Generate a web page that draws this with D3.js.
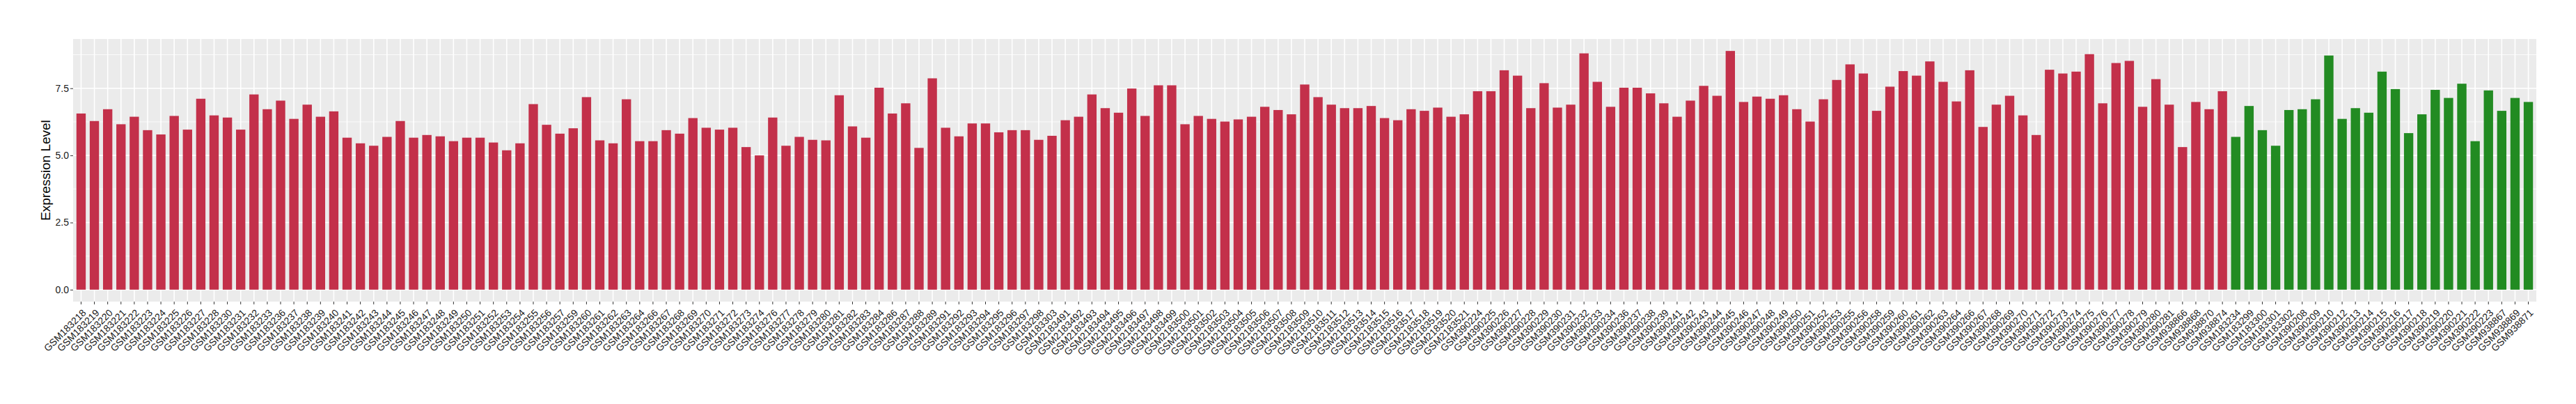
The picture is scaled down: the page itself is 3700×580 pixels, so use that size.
<!DOCTYPE html>
<html>
<head>
<meta charset="utf-8">
<script src="https://cdn.jsdelivr.net/npm/d3@7"></script>
<style>
  body { margin: 0; background: #fff; }
  text { font-family: "Liberation Sans", Arial, sans-serif; }
</style>
</head>
<body>
<div id="chart"></div>
<script>
// tumor samples (red) then normal samples (green)
var tumorSamples = [
  "GSM183218","GSM183219","GSM183220","GSM183221","GSM183222","GSM183223","GSM183224","GSM183225","GSM183226","GSM183227","GSM183228",
  "GSM183230","GSM183231","GSM183232","GSM183233","GSM183236","GSM183237","GSM183238","GSM183239","GSM183240","GSM183241","GSM183242",
  "GSM183243","GSM183244","GSM183245","GSM183246","GSM183247","GSM183248","GSM183249","GSM183250","GSM183251","GSM183252","GSM183253",
  "GSM183254","GSM183255","GSM183256","GSM183257","GSM183259","GSM183260","GSM183261","GSM183262","GSM183263","GSM183264","GSM183266",
  "GSM183267","GSM183268","GSM183269","GSM183270","GSM183271","GSM183272","GSM183273","GSM183274","GSM183276","GSM183277","GSM183278",
  "GSM183279","GSM183280","GSM183281","GSM183282","GSM183283","GSM183284","GSM183286","GSM183287","GSM183288","GSM183289","GSM183291",
  "GSM183292","GSM183293","GSM183294","GSM183295","GSM183296","GSM183297","GSM183298","GSM183303",
  "GSM2183491","GSM2183492","GSM2183493","GSM2183494","GSM2183495","GSM2183496","GSM2183497","GSM2183498","GSM2183499","GSM2183500",
  "GSM2183501","GSM2183502","GSM2183503","GSM2183504","GSM2183505","GSM2183506","GSM2183507","GSM2183508","GSM2183509","GSM2183510",
  "GSM2183511","GSM2183512","GSM2183513","GSM2183514","GSM2183515","GSM2183516","GSM2183517","GSM2183518","GSM2183519","GSM2183520","GSM2183521",
  "GSM390224","GSM390225","GSM390226","GSM390227","GSM390228","GSM390229","GSM390230","GSM390231","GSM390232","GSM390233","GSM390234",
  "GSM390236","GSM390237","GSM390238","GSM390239","GSM390241","GSM390242","GSM390243","GSM390244","GSM390245","GSM390246","GSM390247",
  "GSM390248","GSM390249","GSM390250","GSM390251","GSM390252","GSM390253","GSM390255","GSM390256","GSM390258","GSM390259","GSM390260",
  "GSM390261","GSM390262","GSM390263","GSM390264","GSM390266","GSM390267","GSM390268","GSM390269","GSM390270","GSM390271","GSM390272",
  "GSM390273","GSM390274","GSM390275","GSM390276","GSM390277","GSM390278","GSM390279","GSM390280","GSM390281",
  "GSM938866","GSM938868","GSM938870","GSM938874"
];
var tumorValues = [
  6.56, 6.28, 6.72, 6.16, 6.44, 5.94, 5.78, 6.47, 5.96, 7.11, 6.49,
  6.41, 5.96, 7.27, 6.72, 7.04, 6.36, 6.89, 6.44, 6.64, 5.66, 5.45, 5.36, 5.69, 6.28, 5.66, 5.76,
  5.71, 5.53, 5.66, 5.66, 5.48, 5.19, 5.45, 6.91, 6.14, 5.81, 6.01, 7.17, 5.56, 5.45, 7.09, 5.53,
  5.53, 5.94, 5.81, 6.39, 6.03, 5.96, 6.03, 5.31, 5.00, 6.41, 5.36, 5.69, 5.58, 5.56, 7.24,
  6.08, 5.66, 7.52, 6.56, 6.94, 5.28, 7.87, 6.03, 5.71, 6.19, 6.19, 5.86, 5.94, 5.94, 5.58, 5.73,
  6.31, 6.44, 7.27, 6.76, 6.59, 7.49, 6.47, 7.61, 7.61, 6.16, 6.47, 6.36, 6.26, 6.34, 6.44, 6.81,
  6.69, 6.53, 7.64, 7.17, 6.89, 6.76, 6.76, 6.84, 6.39, 6.31, 6.72, 6.66, 6.78, 6.44, 6.53,
  7.39, 7.39, 8.17, 7.97, 6.76, 7.69, 6.78, 6.89, 8.80, 7.74, 6.81, 7.52, 7.52, 7.31, 6.94, 6.44,
  7.04, 7.59, 7.22, 8.89, 6.99, 7.19, 7.11, 7.24, 6.72, 6.26, 7.09, 7.81, 8.39, 8.05, 6.66, 7.56,
  8.14, 7.97, 8.50, 7.74, 7.01, 8.17, 6.06, 6.89, 7.22, 6.49, 5.76, 8.19, 8.05, 8.12, 8.77, 6.94,
  8.44, 8.52, 6.81, 7.84, 6.89, 5.31, 6.99, 6.72, 7.39
];
var normalSamples = [
  "GSM183234","GSM183299","GSM183300","GSM183301","GSM183302","GSM390208","GSM390209","GSM390210",
  "GSM390212","GSM390213","GSM390214","GSM390215","GSM390216","GSM390217","GSM390218","GSM390219",
  "GSM390220","GSM390221","GSM390222","GSM390223","GSM938867","GSM938869","GSM938871"
];
var normalValues = [
  5.69, 6.84, 5.94, 5.36, 6.69, 6.72, 7.09, 8.72, 6.36, 6.76, 6.59, 8.12,
  7.47, 5.83, 6.53, 7.44, 7.14, 7.67, 5.53, 7.42, 6.66, 7.14, 6.99
];
var yTicks = [0, 2.5, 5, 7.5];
var yMinor = [1.25, 3.75, 6.25, 8.75];

var data = [];
tumorSamples.forEach(function (s, i) { data.push({ sample: s, value: tumorValues[i], group: "tumor" }); });
normalSamples.forEach(function (s, i) { data.push({ sample: s, value: normalValues[i], group: "normal" }); });

var W = 3700, H = 580,
  margin = { top: 56, right: 57, bottom: 147, left: 105 },
  width = W - margin.left - margin.right,
  height = H - margin.top - margin.bottom;

var svg = d3.select("#chart").append("svg")
  .attr("width", W).attr("height", H),
  g = svg.append("g").attr("transform", "translate(" + margin.left + "," + margin.top + ")");

var x = d3.scaleBand()
  .domain(data.map(function (d) { return d.sample; }))
  .range([0, width])
  .paddingInner(0.3)
  .paddingOuter(0.25);

var maxV = d3.max(data, function (d) { return d.value; });
var y = d3.scaleLinear()
  .domain([-maxV * 0.05, maxV * 1.05])
  .range([height, 0]);

var color = d3.scaleOrdinal()
  .domain(["tumor", "normal"])
  .range(["#C3304A", "#228B22"]);

// panel
g.append("rect").attr("width", width).attr("height", height).attr("fill", "#EBEBEB");

g.selectAll(".minor").data(yMinor).enter().append("line")
  .attr("x1", 0).attr("x2", width)
  .attr("y1", function (d) { return y(d); }).attr("y2", function (d) { return y(d); })
  .attr("stroke", "#fff").attr("stroke-width", 0.8);

g.selectAll(".hmajor").data(yTicks).enter().append("line")
  .attr("x1", 0).attr("x2", width)
  .attr("y1", function (d) { return y(d); }).attr("y2", function (d) { return y(d); })
  .attr("stroke", "#fff").attr("stroke-width", 1.6);

g.selectAll(".vmajor").data(data).enter().append("line")
  .attr("x1", function (d) { return x(d.sample) + x.bandwidth() / 2; })
  .attr("x2", function (d) { return x(d.sample) + x.bandwidth() / 2; })
  .attr("y1", 0).attr("y2", height)
  .attr("stroke", "#fff").attr("stroke-width", 1.6);

g.selectAll(".bar").data(data).enter().append("rect")
  .attr("class", "bar")
  .attr("x", function (d) { return x(d.sample); })
  .attr("width", x.bandwidth())
  .attr("y", function (d) { return y(d.value); })
  .attr("height", function (d) { return y(0) - y(d.value); })
  .attr("fill", function (d) { return color(d.group); });

// y axis
var yAxis = g.append("g").call(d3.axisLeft(y).tickValues(yTicks).tickSize(4).tickPadding(2)
  .tickFormat(d3.format(".1f")));
yAxis.select(".domain").remove();
yAxis.selectAll("line").attr("stroke", "#333");
yAxis.selectAll("text").attr("font-size", 14).attr("fill", "#1a1a1a");

// x axis
var xAxis = g.append("g").attr("transform", "translate(0," + height + ")")
  .call(d3.axisBottom(x).tickSize(4));
xAxis.select(".domain").remove();
xAxis.selectAll("line").attr("stroke", "#333");
xAxis.selectAll("text")
  .attr("font-size", 14).attr("fill", "#1a1a1a")
  .attr("text-anchor", "end")
  .attr("y", 0).attr("dy", 0)
  .attr("transform", "translate(8,17) rotate(-45)");

svg.append("text")
  .attr("transform", "translate(72," + (margin.top + height / 2) + ") rotate(-90)")
  .attr("text-anchor", "middle")
  .attr("font-size", 19)
  .attr("fill", "#000")
  .text("Expression Level");
</script>
</body>
</html>
